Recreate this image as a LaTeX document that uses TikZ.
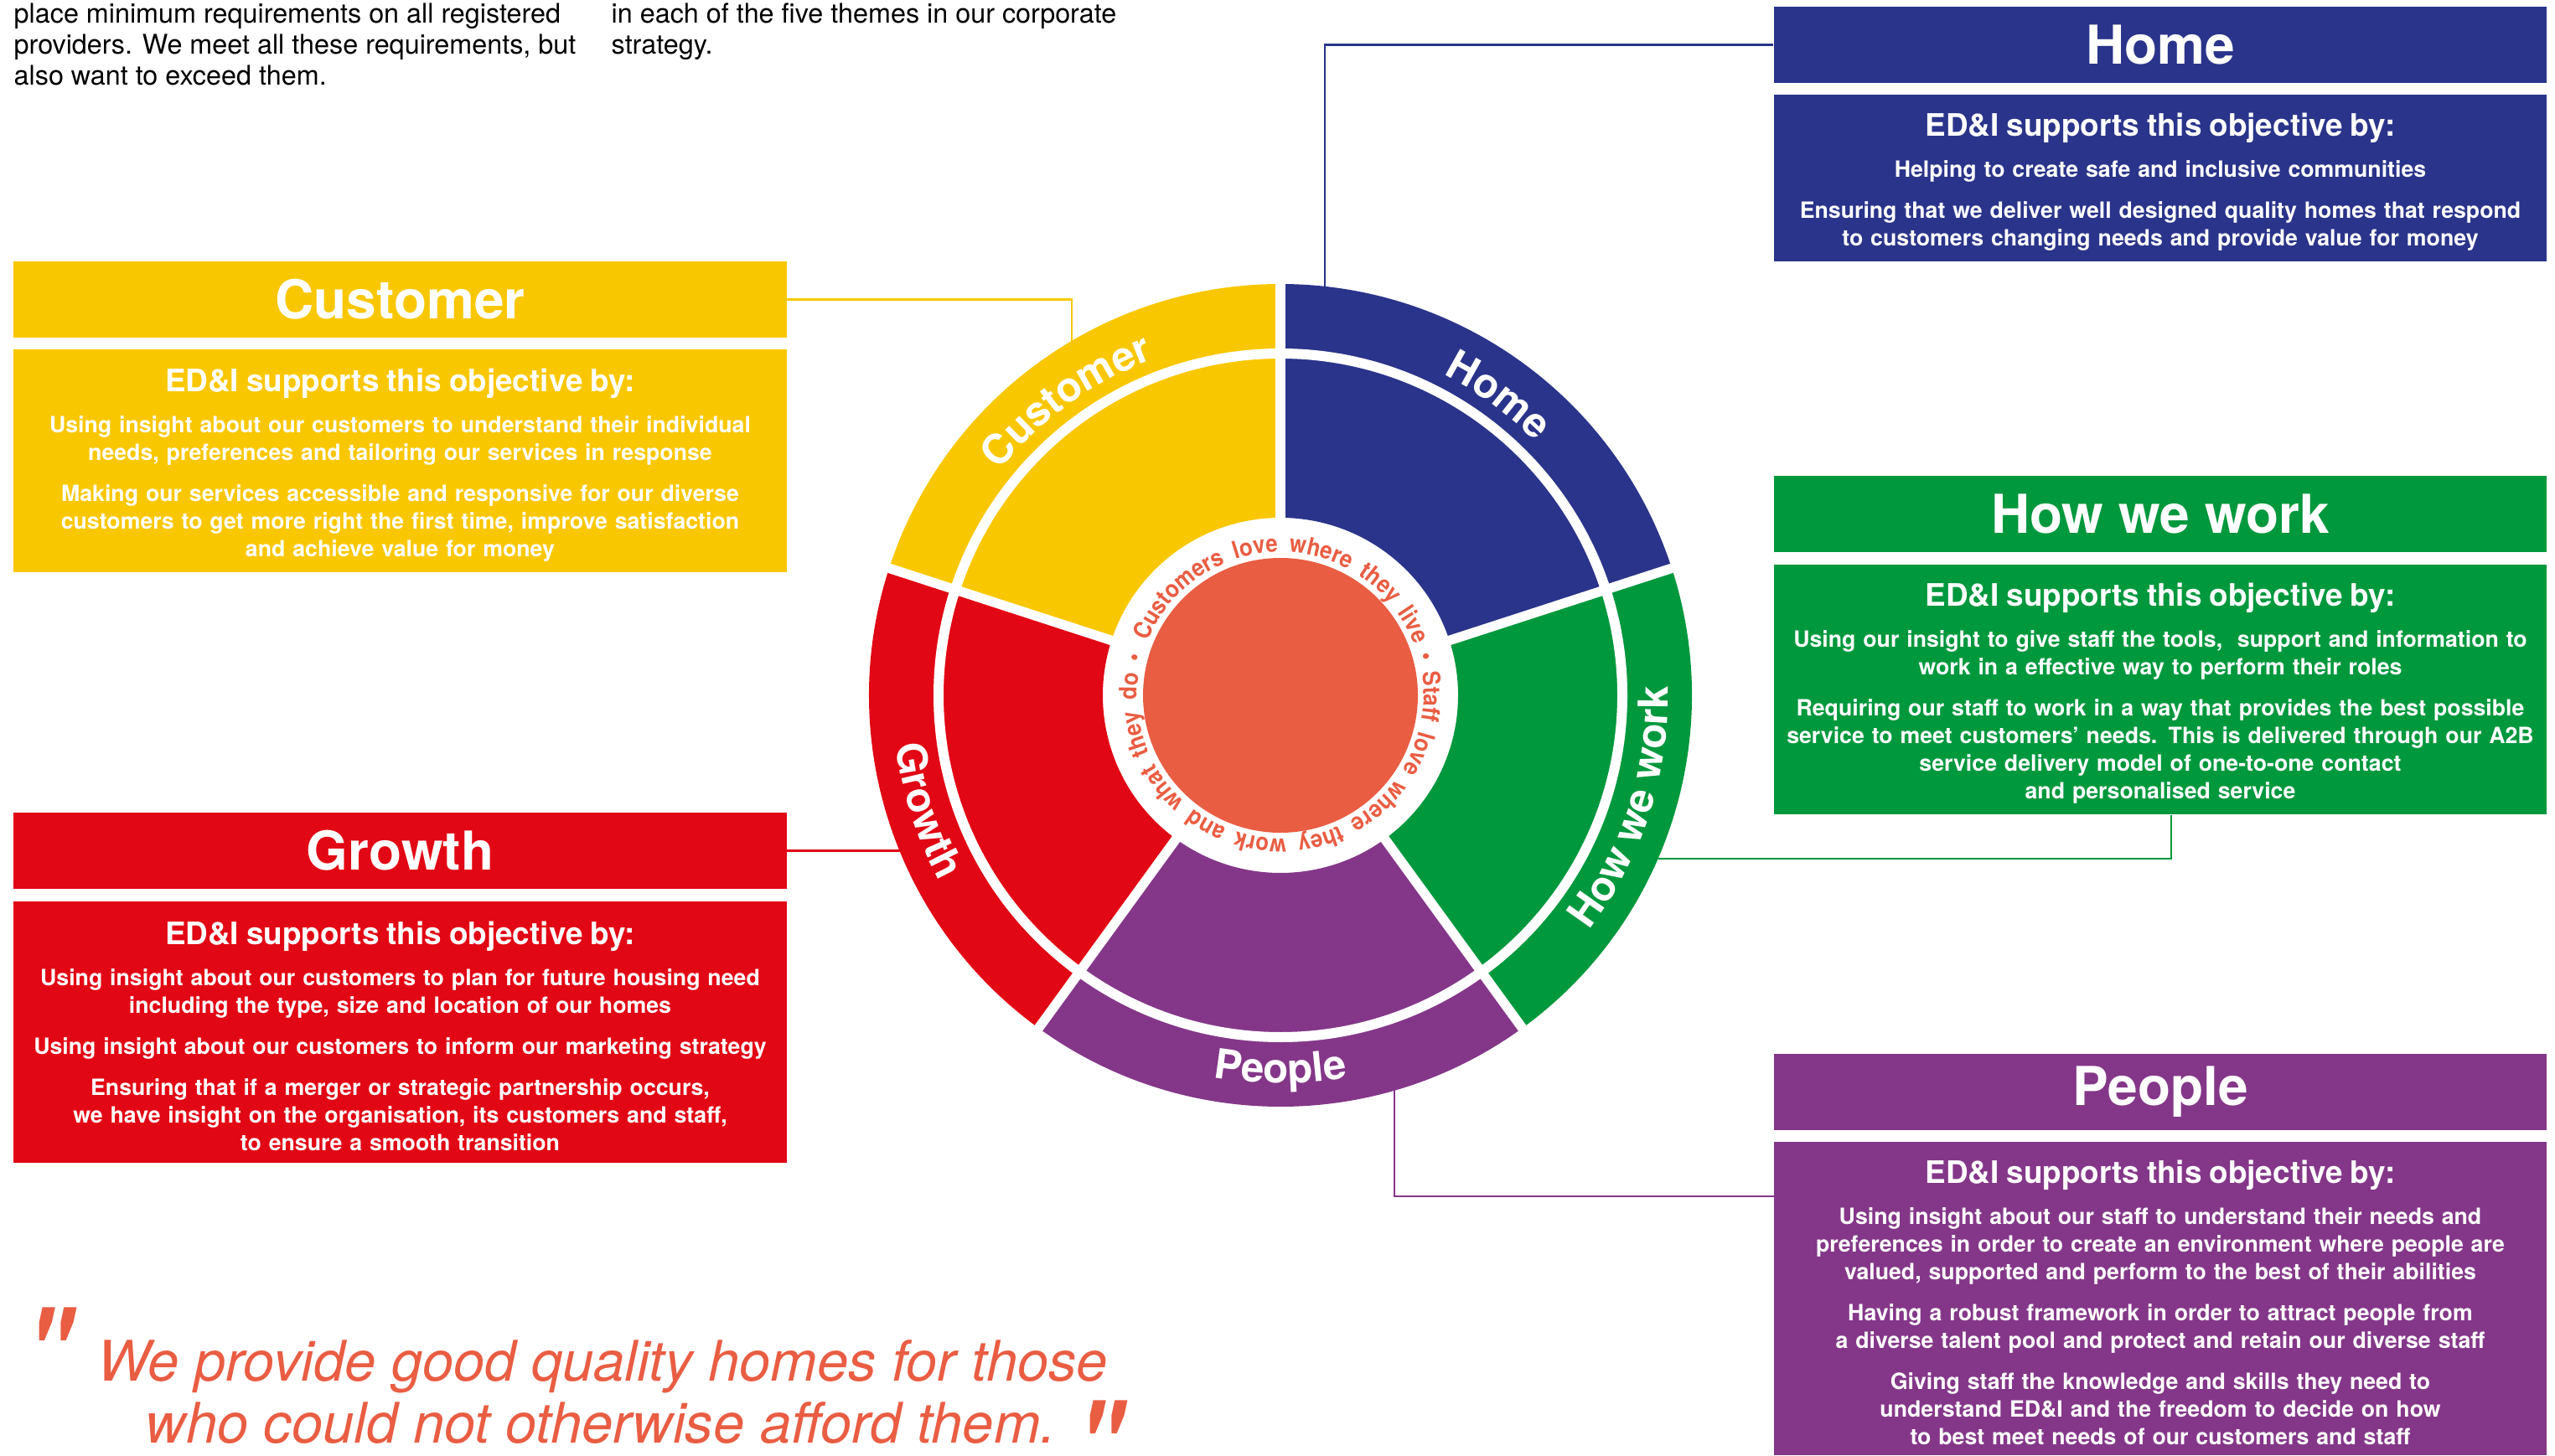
\documentclass[tikz,border=0pt]{standalone}
\usepackage{fontspec}
\setmainfont{TeX Gyre Heros}
\newfontfamily\markfont{TeX Gyre Heros}[Ligatures=NoCommon]
\newfontfamily\ringface{TeX Gyre Heros}[FakeStretch=0.9]
\usepackage{tikz}
\usetikzlibrary{decorations.text}

\definecolor{homeblue}{HTML}{2A348A}
\definecolor{custyellow}{HTML}{F9C700}
\definecolor{growthred}{HTML}{E20714}
\definecolor{howgreen}{HTML}{00983D}
\definecolor{peoplepurple}{HTML}{843789}
\definecolor{ringorange}{HTML}{E95D43}

\newcommand{\edihead}{{\fontsize{10.5}{12}\selectfont\rule{0pt}{10.6pt}ED\&I supports this objective by:}\\[4.5pt]}
\newcommand{\wheelfont}{\fontsize{14}{16}\selectfont\bfseries}
\newcommand{\ringfont}{\ringface\fontsize{8.2}{9}\selectfont\bfseries}
\newcommand{\qm}{\raisebox{-0.463em}[0.26em][0pt]{"}}

\begin{document}
\begin{tikzpicture}[titlebox/.style = {fill = #1, text = white, minimum width = 9.22cm, minimum height = 0.91cm, inner sep = 0pt,
                                         font = \fontsize{18.2}{20}\selectfont\bfseries},
                      bodybox/.style = {fill = #1, text = white, minimum width = 9.22cm, text width = 9.2cm, inner sep = 0pt,
                                        align = center, font = \fontsize{7.6}{9.4}\selectfont\bfseries},
                      link/.style = {draw = #1, line width = 0.8pt},
                      gap/.style = {white, line width = 0.115cm},
                      plain/.style = {anchor = north west, inner sep = 0pt, align = left, font = \fontsize{9.2}{10.5}\selectfont},
                      quote/.style = {anchor = base, inner sep = 0pt, text = ringorange, font = \fontsize{19}{21}\selectfont\itshape},
                      qmark/.style = {anchor = north west, inner sep = 0pt, text = ringorange, font = \fontsize{46}{46}\selectfont\markfont\itshape}]
  \useasboundingbox (0,0) rectangle (30.49,17.37);

  % intro text
  \node [plain] (introA) at (0.16,17.34) {place minimum requirements on all registered\\ providers. We meet all these requirements, but\\ also want to exceed them.};
  \node [plain] (introB) at (7.29,17.34) {in each of the five themes in our corporate\\ strategy.};

  % boxes on the left
  \node [titlebox = custyellow] (custTitle) at (4.775,13.795) {Customer};
  \node [bodybox = custyellow, minimum height = 2.66cm] (custBody) at (4.775,11.87) {\edihead
    Using insight about our customers to understand their individual\\ needs, preferences and tailoring our services in response\\[4.5pt]
    Making our services accessible and responsive for our diverse\\ customers to get more right the first time, improve satisfaction\\ and achieve value for money};
  \node [titlebox = growthred] (growthTitle) at (4.775,7.215) {Growth};
  \node [bodybox = growthred, minimum height = 3.12cm] (growthBody) at (4.775,5.05) {\edihead
    Using insight about our customers to plan for future housing need\\ including the type, size and location of our homes\\[4.5pt]
    Using insight about our customers to inform our marketing strategy\\[4.5pt]
    Ensuring that if a merger or strategic partnership occurs,\\ we have insight on the organisation, its customers and staff,\\ to ensure a smooth transition};

  % boxes on the right
  \node [titlebox = homeblue] (homeTitle) at (25.78,16.835) {Home};
  \node [bodybox = homeblue, minimum height = 1.99cm] (homeBody) at (25.78,15.245) {\edihead
    Helping to create safe and inclusive communities\\[4.5pt]
    Ensuring that we deliver well designed quality homes that respond\\ to customers changing needs and provide value for money};
  \node [titlebox = howgreen] (howTitle) at (25.78,11.235) {How we work};
  \node [bodybox = howgreen, minimum height = 2.98cm] (howBody) at (25.78,9.14) {\edihead
    Using our insight to give staff the tools,\ \ support and information to\\ work in a effective way to perform their roles\\[4.5pt]
    Requiring our staff to work in a way that provides the best possible\\ service to meet customers’ needs. This is delivered through our A2B\\ service delivery model of one-to-one contact\\ and personalised service};
  \node [titlebox = peoplepurple] (peopleTitle) at (25.78,4.335) {People};
  \node [bodybox = peoplepurple, minimum height = 3.74cm] (peopleBody) at (25.78,1.87) {\edihead
    Using insight about our staff to understand their needs and\\ preferences in order to create an environment where people are\\ valued, supported and perform to the best of their abilities\\[4.5pt]
    Having a robust framework in order to attract people from\\ a diverse talent pool and protect and retain our diverse staff\\[4.5pt]
    Giving staff the knowledge and skills they need to\\ understand ED\&I and the freedom to decide on how\\ to best meet needs of our customers and staff};

  % connectors
  \coordinate (wheel) at (15.28,9.07);
  \coordinate (homeEnd) at (15.81,13.9);
  \coordinate (custEnd) at (12.79,13.25);
  \coordinate (growthEnd) at (10.78,7.215);
  \coordinate (howStart) at (19.74,7.12);
  \coordinate (peopleStart) at (16.64,4.4);
  \coordinate (peopleEnd) at (21.17,3.09);
  \draw [link = homeblue] (homeTitle.west) -| (homeEnd);
  \draw [link = custyellow] (custTitle.east) -| (custEnd);
  \draw [link = growthred] (growthTitle.east) -- (growthEnd);
  \draw [link = howgreen] (howStart) -| ([xshift = 0.13cm]howBody.south);
  \draw [link = peoplepurple] (peopleStart) |- (peopleEnd);

  % wheel
  \foreach \a/\col in {18/homeblue, 90/custyellow, 162/growthred, 234/peoplepurple, 306/howgreen}
    \fill [\col] ([shift = {(\a:4.91)}]wheel) arc [start angle = \a, end angle = \a+72, radius = 4.91]
      -- ([shift = {(\a+72:2.12)}]wheel) arc [start angle = \a+72, end angle = \a, radius = 2.12] -- cycle;
  \draw [gap, line width = 0.12cm] (wheel) circle [radius = 4.08];
  \foreach \a in {18,90,162,234,306}
    \draw [gap] ([shift = {(\a:2.0)}]wheel) -- ([shift = {(\a:5.0)}]wheel);
  \fill [ringorange] (wheel) circle [radius = 1.64];

  % wheel labels
  \path [decorate, decoration = {text along path, text color = white, text align = center, text = {|\wheelfont|Customer}}]
    ([shift = {(180:4.29)}]wheel) arc [start angle = 180, end angle = 72, radius = 4.29];
  \path [decorate, decoration = {text along path, text color = white, text align = center, text = {|\wheelfont|Home}}]
    ([shift = {(108:4.29)}]wheel) arc [start angle = 108, end angle = 0, radius = 4.29];
  \path [decorate, decoration = {text along path, text color = white, text align = center, text = {|\wheelfont|How we work}}]
    ([shift = {(-72:4.63)}]wheel) arc [start angle = -72, end angle = 36, radius = 4.63];
  \path [decorate, decoration = {text along path, text color = white, text align = center, text = {|\wheelfont|People}}]
    ([shift = {(-144:4.63)}]wheel) arc [start angle = -144, end angle = -36, radius = 4.63];
  \path [decorate, decoration = {text along path, text color = white, text align = center, text = {|\wheelfont|Growth}}]
    ([shift = {(144:4.63)}]wheel) arc [start angle = 144, end angle = 252, radius = 4.63];

  % text round the centre
  \path [decorate, decoration = {text along path, text color = ringorange, text align = {fit to path stretching spaces},
         text = {|\ringfont|Customers love where they live • Staff love where they work and what they do •}}]
    ([shift = {(158:1.71)}]wheel) arc [start angle = 158, end angle = -196, radius = 1.71];

  % quote
  \node [qmark] (openMark) at (0.26,1.79) {\qm};
  \node [quote] (quoteA) at (7.19,0.89) {We provide good quality homes for those};
  \node [quote] (quoteB) at (7.17,0.15) {who could not otherwise afford them.};
  \node [qmark] (closeMark) at (12.8,0.68) {\qm};
\end{tikzpicture}
\end{document}
